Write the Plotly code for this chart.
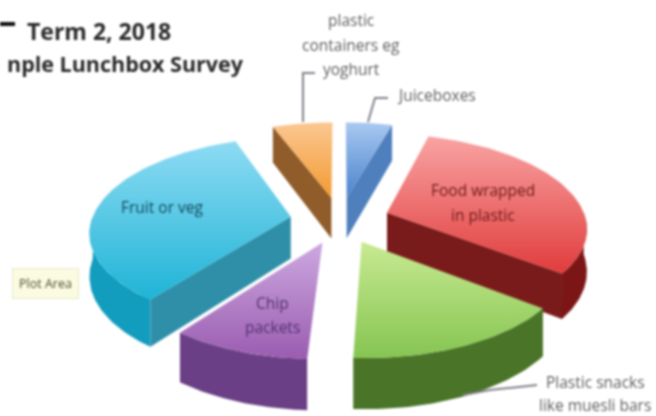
import numpy as np
import plotly.graph_objects as go

# ---- data -------------------------------------------------------------
categories = ["Juiceboxes", "Food wrapped in plastic", "Plastic snacks like muesli bars",
              "Chip packets", "Fruit or veg", "plastic containers eg yoghurt"]
values = [4.4, 31.1, 15.3, 9.4, 34.1, 5.7]
top_light = ["#a9c9f1", "#f9a3a3", "#c8ea92", "#cda9e0", "#8edbf3", "#fbc792"]
top_dark = ["#4a82cc", "#e13c3c", "#86c552", "#9a5cb0", "#1fb4d6", "#f39a30"]
wall_arc = ["#2a6ab0", "#7c1616", "#4a7528", "#6b3f85", "#129cbe", "#a5641e"]
wall_rad = ["#4f80bd", "#7a1b1b", "#4a7528", "#6b3f85", "#2f8fa8", "#8f5c2a"]
draw_order = [5, 0, 4, 1, 3, 2]

title_lines = ["Term 2, 2018", "nple Lunchbox Survey"]
label_lines = [
    ("plastic", 351, 20, "#5f5f5f"), ("containers eg", 351, 45, "#5f5f5f"), ("yoghurt", 351, 69, "#5f5f5f"),
    ("Juiceboxes", 436, 95, "#5f5f5f"), ("Food wrapped", 483, 190, "#6e1b1b"), ("in plastic", 483, 215, "#6e1b1b"),
    ("Fruit or veg", 162, 207, "#11495c"), ("Chip", 272, 303, "#52306f"), ("packets", 272, 327, "#52306f"),
    ("Plastic snacks", 595, 382, "#5f5f5f"), ("like muesli bars", 595, 405, "#5f5f5f"),
]
leaders = [
    ([303, 303, 315], [122, 73, 73]),
    ([368, 375, 388], [122, 98, 98]),
    ([463, 490, 537], [395, 390, 385]),
]

# ---- projection of the tilted pie --------------------------------------
CX, CY, R, E, T, P, D = 340.0, 220.0, 199.0, 50.0, 0.464, 0.00073, 42.0


def proj(X, Y, h=0.0):
    s = 1.0 / (1.0 - P * np.asarray(Y))
    return CX + np.asarray(X) * s, CY + T * np.asarray(Y) * s + h * s


def wedge_xy(a0, a1, n=70):
    th = np.radians(np.linspace(a0, a1, n))
    mid = np.radians((a0 + a1) / 2)
    ox, oy = E * np.sin(mid), -E * np.cos(mid)
    return ox, oy, ox + R * np.sin(th), oy - R * np.cos(th)


fig = go.Figure()


def poly(px, py, **kw):
    fig.add_trace(go.Scatter(x=list(px), y=list(py), mode="lines", fill="toself",
                             line=dict(width=0), hoverinfo="skip", showlegend=False, **kw))


angles = np.cumsum([0] + values) * 3.6
angles = angles / angles[-1] * 360
for i in draw_order:
    a0, a1 = angles[i], angles[i + 1]
    ox, oy, ax, ay = wedge_xy(a0, a1)
    # radial walls facing the viewer
    for edge, normal, (ex, ey) in ((a0, a0 - 90, (ax[0], ay[0])), (a1, a1 + 90, (ax[-1], ay[-1]))):
        if -np.cos(np.radians(normal)) > 0.15:
            xs = np.array([ox, ex, ex, ox])
            ys = np.array([oy, ey, ey, oy])
            hs = np.array([0, 0, D, D])
            px, py = proj(xs, ys, hs)
            poly(px, py, fillcolor=wall_rad[i])
    # outer wall, front part only
    lo, hi = max(a0, 90), min(a1, 270)
    if hi > lo:
        th = np.radians(np.linspace(lo, hi, 50))
        wx, wy = ox + R * np.sin(th), oy - R * np.cos(th)
        tx, ty = proj(wx, wy, 0.0)
        bx, by = proj(wx[::-1], wy[::-1], D)
        poly(np.r_[tx, bx], np.r_[ty, by], fillcolor=wall_arc[i])
    # top face
    px, py = proj(np.r_[ox, ax], np.r_[oy, ay], 0.0)
    fig.add_trace(go.Scatter(
        x=list(px), y=list(py), mode="lines", fill="toself", line=dict(width=0),
        hoverinfo="skip", showlegend=False, name=categories[i],
        fillgradient=dict(type="vertical",
                          colorscale=[[0, top_dark[i]], [1, top_light[i]]]),
    ))

for lx, ly in leaders:
    fig.add_trace(go.Scatter(x=lx, y=ly, mode="lines", line=dict(color="#80808c", width=2),
                             hoverinfo="skip", showlegend=False))

ann = []
for text, x, y, c in label_lines:
    ann.append(dict(x=x, y=y, text=text, showarrow=False, xref="x", yref="y",
                    font=dict(family="Open Sans", size=15.5, color=c)))
ann.append(dict(x=25, y=31, text="<b>%s</b>" % title_lines[0], showarrow=False, xref="x", yref="y",
                xanchor="left", font=dict(family="Open Sans", size=23, color="#2a2a2a")))
ann.append(dict(x=246, y=63, text="<b>%s</b>" % title_lines[1], showarrow=False, xref="x", yref="y",
                xanchor="right", font=dict(family="Open Sans", size=21.5, color="#2a2a2a")))
ann.append(dict(x=45, y=283, text="Plot Area", showarrow=False, xref="x", yref="y",
                bgcolor="#fbfbe2", bordercolor="#e9e9cf", borderwidth=1, borderpad=6,
                font=dict(family="Open Sans", size=12.5, color="#4d4d33")))

fig.update_layout(
    width=656, height=416, margin=dict(l=0, r=0, t=0, b=0),
    paper_bgcolor="white", plot_bgcolor="white", showlegend=False,
    xaxis=dict(visible=False, range=[0, 656], fixedrange=True),
    yaxis=dict(visible=False, range=[416, 0], fixedrange=True),
    annotations=ann,
    shapes=[dict(type="rect", xref="x", yref="y", x0=-2, x1=15, y0=22, y1=26,
                 fillcolor="#111111", line=dict(width=0))],
)
fig.write_html("out.html", config=dict(displayModeBar=False),
               post_script="document.body.style.margin='0';"
                           "document.querySelector('.svg-container').style.filter='blur(1px)';")
